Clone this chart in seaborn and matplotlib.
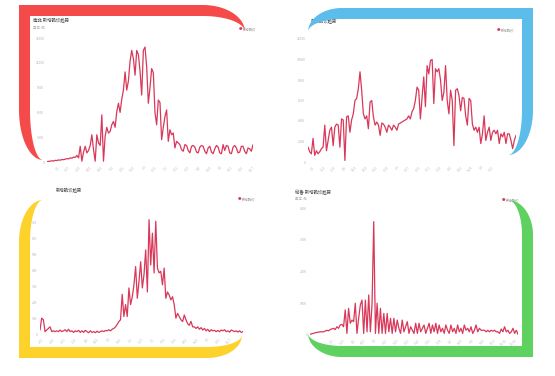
import numpy as np
import matplotlib
matplotlib.use("Agg")
import matplotlib.pyplot as plt
from matplotlib.patches import Polygon
import seaborn as sns

sns.set_theme(style="white")
plt.rcParams['font.family'] = ['Noto Sans CJK SC', 'DejaVu Sans']

# ---------------- data ----------------
titles = ["南非 新增确诊趋势", "新增确诊趋势", "新增确诊趋势", "秘鲁 新增确诊趋势"]
subtitle = "单位: 例"
legend_label = "新增确诊"

sa_values = [50,80,100,150,120,200,180,250,220,300,280,350,400,380,500,450,600,550,800,500,
             1900,100,1200,1900,1100,1400,2000,3300,1500,100,3300,2300,2000,5700,100,3100,4200,3500,3700,4500,
             4900,4200,6100,7100,6000,7600,8700,10900,8700,9800,12200,13500,12500,10500,13500,13000,11000,8100,13500,13900,
             11500,7100,9000,11300,10800,6000,4500,7500,7200,2700,4200,5500,6300,2500,3900,3300,3500,1700,2500,2300,
             2100,1500,1300,2100,2000,1400,1100,1900,2000,1800,1200,1100,1800,2000,1900,1300,1000,1700,1900,1200,
             1000,1600,2000,1800,1100,1000,2100,1400,2000,1900,1100,1000,1800,2000,1700,1100,1200,1900,1900,1300,
             1000,1700,1600,1300,2100]
sa_dates = ['3/5','3/17','3/29','4/10','4/22','5/4','5/16','5/28','6/9','6/21','7/3','7/15','7/27',
            '8/8','8/20','9/1','9/13','9/25','10/7']

tr_values = [1460,1000,800,2300,650,1100,800,1000,1300,1460,3600,1100,2100,3100,3400,1600,3400,3700,3600,1450,
             4200,4100,150,4400,4500,2900,4100,4700,6000,6200,7150,8800,7000,4700,4200,4500,3250,5850,6000,4400,
             3600,3900,3600,2600,3800,3700,3400,2900,3600,3400,3100,3600,3400,3100,3700,3800,3900,4000,4100,4200,
             4500,4200,4900,5200,6000,7300,7000,4200,6300,8300,5400,9400,8600,9900,10000,5700,9100,8800,9100,8000,
             6000,6800,9400,6000,4700,7000,6000,1600,7000,7150,6500,5000,6300,6200,4500,3600,6200,6000,3700,3100,
             3400,2900,3400,1800,2750,4500,2100,2900,3400,2100,2900,3100,2750,3100,1800,2750,2450,2900,1800,2750,
             2750,2100,1300,2100,2600]
tr_dates = ['3/1','3/13','3/25','4/6','4/18','4/30','5/12','5/24','6/5','6/17','6/29','7/11','7/23',
            '8/4','8/16','8/28','9/9','9/21']

bl_values = [25,100,90,15,25,35,45,15,20,15,20,15,25,15,20,27,15,30,15,20,
             10,20,15,23,10,20,10,23,15,8,20,10,15,8,18,10,15,20,15,22,
             20,27,20,30,35,45,60,78,90,250,110,185,110,290,185,235,310,425,225,330,
             455,290,375,530,265,720,435,635,385,710,415,385,395,310,415,225,265,245,215,235,
             185,100,130,110,90,78,120,90,65,55,80,45,45,35,45,30,40,25,35,20,
             30,15,27,20,23,15,22,15,25,20,27,15,20,12,25,20,15,20,12,20,
             10,15]
bl_dates = ['2/12','2/26','3/11','3/25','4/8','4/22','5/6','5/20','6/3','6/17','7/1','7/15','7/29',
            '8/12','8/26','9/9','9/23','10/7']

pe_values = [20,40,50,70,80,90,100,100,100,120,150,130,170,190,210,170,260,210,315,335,
             260,790,50,840,370,470,420,1000,50,525,945,1100,50,1100,100,1260,100,1000,3570,50,
             1000,50,840,50,680,50,680,100,525,50,525,100,470,210,50,470,100,260,420,50,
             260,150,50,370,50,370,100,210,315,50,210,370,50,315,100,370,50,315,100,210,
             50,315,150,50,315,100,210,50,315,100,210,50,315,150,210,100,260,50,150,315,
             100,210,150,150,150,100,150,100,150,120,150,100,100,50,190,100,260,100,150,50,
             100,210,50,150,20]
pe_dates = ['3/6','3/20','4/3','4/17','5/1','5/15','5/29','6/12','6/26','7/10','7/24','8/7','8/21',
            '9/4','9/18','10/2','10/16','10/30']

panels = [
    dict(values=sa_values, dates=sa_dates, ymax=15000, ystep=3000, yticks_max=15000,
         box=(47, 38, 253, 162), tick_frac=(0.05, 1.0)),
    dict(values=tr_values, dates=tr_dates, ymax=12000, ystep=2000, yticks_max=12000,
         box=(308, 39, 516, 162), tick_frac=(0.024, 0.885)),
    dict(values=bl_values, dates=bl_dates, ymax=800, ystep=100, yticks_max=700,
         box=(40, 207, 243, 334), tick_frac=(0.01, 0.936)),
    dict(values=pe_values, dates=pe_dates, ymax=4000, ystep=1000, yticks_max=4000,
         box=(310, 208, 518, 335), tick_frac=(0.106, 0.986)),
]

W, H = 555, 376
fig = plt.figure(figsize=(W / 100, H / 100), dpi=100)
fig.patch.set_facecolor("white")

line_color = "#d8385a"

def fx(x):
    return x / W

def fy(y):
    return 1 - y / H

for p in panels:
    x0, y0, x1, y1 = p["box"]
    ax = fig.add_axes([fx(x0), fy(y1), (x1 - x0) / W, (y1 - y0) / H])
    ax.set_facecolor("none")
    vals = p["values"]
    xs = np.arange(len(vals))
    sns.lineplot(x=xs, y=vals, ax=ax, color=line_color, linewidth=0.9)
    ax.set_xlim(0, len(vals) - 1)
    ax.set_ylim(0, p["ymax"])
    ax.set_yticks(np.arange(0, p["yticks_max"] + 1, p["ystep"]))
    n = len(p["dates"])
    f0, f1 = p["tick_frac"]
    ax.set_xticks(np.linspace(f0, f1, n) * (len(vals) - 1))
    ax.set_xticklabels(p["dates"], rotation=45, ha="right", rotation_mode="anchor")
    ax.tick_params(axis="y", labelsize=2.4, colors="#b5b5b5", length=0, pad=2)
    ax.tick_params(axis="x", labelsize=2.2, colors="#c0c0c0", length=0, pad=2)
    for s in ax.spines.values():
        s.set_visible(False)
    ax.grid(False)
    ax.set_xlabel("")
    ax.set_ylabel("")

# titles / subtitles / legends
title_pos = [(33, 21), (311, 22), (56, 191), (295, 192)]
sub_pos = [(33, 28), None, None, (295, 199)]
legend_pos = [(239, 29), (497, 30), (238, 199), (502, 200)]
for i in range(4):
    tx, ty = title_pos[i]
    fig.text(fx(tx), fy(ty), titles[i], fontsize=3.2, color="#444444", va="center", ha="left")
    if sub_pos[i] is not None:
        sx, sy = sub_pos[i]
        fig.text(fx(sx), fy(sy), subtitle, fontsize=2.4, color="#aaaaaa", va="center", ha="left")
    lx, ly = legend_pos[i]
    fig.text(fx(lx), fy(ly), "●", fontsize=2.6, color=line_color, va="center", ha="left")
    fig.text(fx(lx + 4), fy(ly), legend_label, fontsize=2.4, color="#999999", va="center", ha="left")

# decorative corner borders
ov = fig.add_axes([0, 0, 1, 1], zorder=10)
ov.set_xlim(0, W)
ov.set_ylim(H, 0)
ov.axis("off")
ov.patch.set_alpha(0)

def border(x0, y0, x1, y1, bh_w, bv_w, a, b, flipx, flipy, color):
    Wd, Ht = x1 - x0, y1 - y0
    ah, av = a
    bh, bv = b
    t = np.linspace(0, np.pi / 2, 40)
    pts = []
    # outer arc A (from taper to top edge)
    pts += list(zip(Wd - ah + ah * np.cos(t), av - av * np.sin(t)))
    pts += [(0, 0)]
    # outer arc B
    pts += list(zip(bh - bh * np.cos(t), Ht - bv + bv * np.sin(t)))
    # inner arc B back
    tr = t[::-1]
    pts += list(zip(bh - (bh - bv_w) * np.cos(tr), Ht - bv + bv * np.sin(tr)))
    pts += [(bv_w, bh_w)]
    # inner arc A
    pts += list(zip(Wd - ah + ah * np.cos(tr), av - (av - bh_w) * np.sin(tr)))
    out = []
    for u, v in pts:
        X = x1 - u if flipx else x0 + u
        Y = y1 - v if flipy else y0 + v
        out.append((X, Y))
    ov.add_patch(Polygon(out, closed=True, facecolor=color, edgecolor="none"))

border(19, 5, 245, 160, 11, 11, (42, 27), (24, 50), False, False, "#f54a4a")
border(308, 8, 533, 155, 11, 11, (34, 24), (25, 45), True, False, "#5cbdea")
border(19, 200, 242, 358, 11, 11, (35, 23), (24, 42), False, True, "#fdd22b")
border(308, 200, 533, 357, 11, 11, (34, 24), (25, 35), True, True, "#5fd160")

fig.savefig("out.png", dpi=100, facecolor="white")
